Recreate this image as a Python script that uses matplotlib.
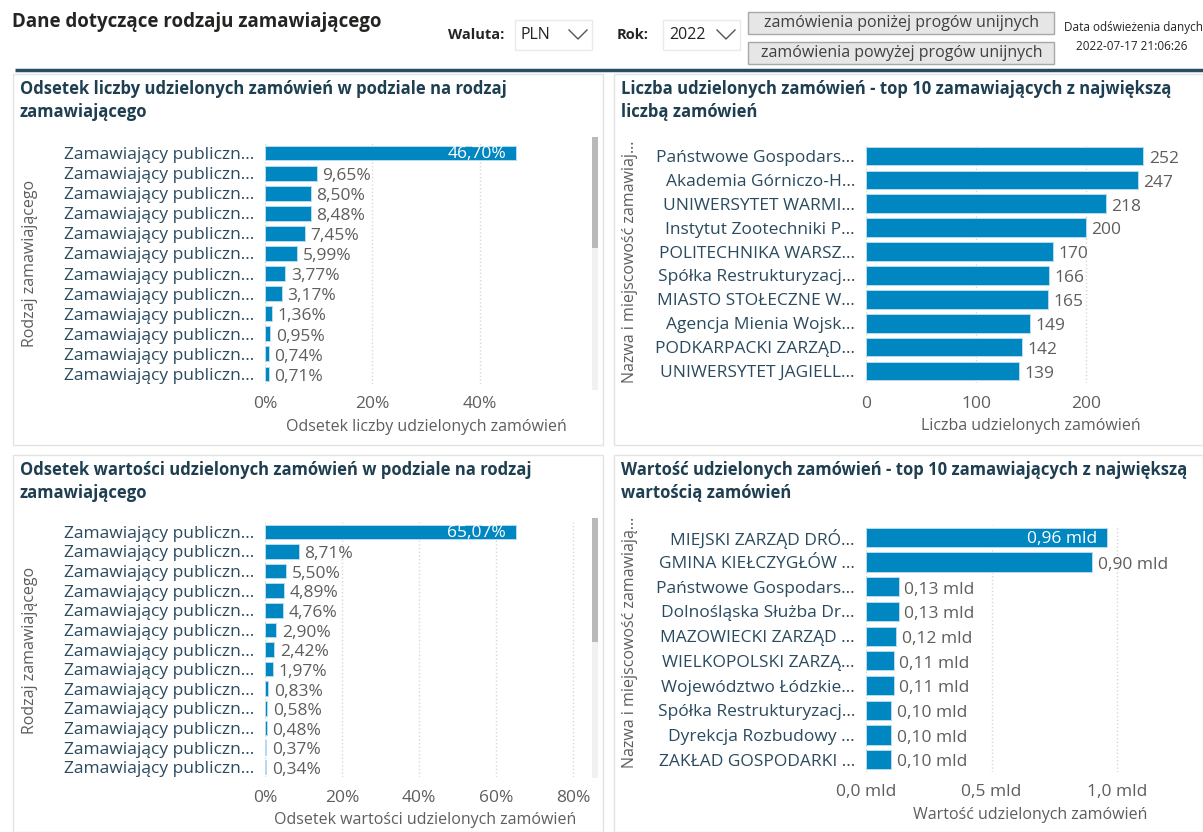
import numpy as np
import matplotlib.pyplot as plt
from matplotlib.patches import Rectangle

plt.rcParams['font.family'] = ['Open Sans', 'DejaVu Sans']

W, H = 1203, 832

# panel 1 - odsetek liczby zamowien
typ_labels = ['Zamawiający publiczn...'] * 12
typ_liczba = [46.70, 9.65, 8.50, 8.48, 7.45, 5.99, 3.77, 3.17, 1.36, 0.95, 0.74, 0.71]

# panel 2 - top 10 wg liczby
top_liczba_labels = ['Państwowe Gospodars...', 'Akademia Górniczo-H...', 'UNIWERSYTET WARMI...',
                     'Instytut Zootechniki P...', 'POLITECHNIKA WARSZ...', 'Spółka Restrukturyzacj...',
                     'MIASTO STOŁECZNE W...', 'Agencja Mienia Wojsk...', 'PODKARPACKI ZARZĄD...',
                     'UNIWERSYTET JAGIELL...']
top_liczba = [252, 247, 218, 200, 170, 166, 165, 149, 142, 139]

# panel 3 - odsetek wartosci
typ_labels2 = ['Zamawiający publiczn...'] * 13
typ_wartosc = [65.07, 8.71, 5.50, 4.89, 4.76, 2.90, 2.42, 1.97, 0.83, 0.58, 0.48, 0.37, 0.34]

# panel 4 - top 10 wg wartosci (mld PLN)
top_wart_labels = ['MIEJSKI ZARZĄD DRÓ...', 'GMINA KIEŁCZYGŁÓW ...', 'Państwowe Gospodars...',
                   'Dolnośląska Służba Dr...', 'MAZOWIECKI ZARZĄD ...', 'WIELKOPOLSKI ZARZĄ...',
                   'Województwo Łódzkie...', 'Spółka Restrukturyzacj...', 'Dyrekcja Rozbudowy ...',
                   'ZAKŁAD GOSPODARKI ...']
top_wartosc = [0.96, 0.90, 0.13, 0.13, 0.12, 0.11, 0.11, 0.10, 0.10, 0.10]

BAR = '#0087C1'
TITLE_C = '#1E3F51'
CAT_C = '#2A4A5E'
GREY = '#605E5C'
FS = 12.5

fig = plt.figure(figsize=(W / 100, H / 100), dpi=100)
fig.patch.set_facecolor('white')

# overlay in pixel coords for header + frames
ov = fig.add_axes([0, 0, 1, 1])
ov.set_xlim(0, W)
ov.set_ylim(H, 0)
ov.axis('off')


def px_axes(x0, y0, x1, y1):
    ax = fig.add_axes([x0 / W, 1 - y1 / H, (x1 - x0) / W, (y1 - y0) / H])
    ax.patch.set_alpha(0)
    return ax


# header
ov.text(12, 22, 'Dane dotyczące rodzaju zamawiającego', fontsize=13.5, fontweight='bold',
        color='#252423', va='center', ha='left')
ov.text(448, 35, 'Waluta:', fontsize=10.5, fontweight='bold', color='#252423', va='center')
ov.add_patch(Rectangle((515, 20), 77, 30, facecolor='white', edgecolor='#EAEAEA', lw=1))
ov.text(521, 35, 'PLN', fontsize=11.5, color='#252423', va='center')
ov.plot([569, 578, 587], [30, 39, 30], color='#555555', lw=1)
ov.text(617, 35, 'Rok:', fontsize=10.5, fontweight='bold', color='#252423', va='center')
ov.add_patch(Rectangle((663, 20), 77, 30, facecolor='white', edgecolor='#EAEAEA', lw=1))
ov.text(669, 35, '2022', fontsize=11.5, color='#252423', va='center')
ov.plot([717, 726, 735], [30, 39, 30], color='#555555', lw=1)
for yb, txt in [(12, 'zamówienia poniżej progów unijnych'), (42, 'zamówienia powyżej progów unijnych')]:
    ov.add_patch(Rectangle((748, yb), 306, 22, facecolor='#E6E6E6', edgecolor='#A8A8A8', lw=1))
    ov.text(902, yb + 11, txt, fontsize=11.5, color='#404040', ha='center', va='center')
ov.text(1133, 28, 'Data odświeżenia danych', fontsize=8.5, color='#252423', ha='center', va='center')
ov.text(1132, 46, '2022-07-17 21:06:26', fontsize=8.5, color='#252423', ha='center', va='center')
ov.plot([15, W], [70, 70], color='#264D61', lw=2.5, solid_capstyle='butt')

# panel frames
for (x0, y0, x1, y1) in [(13, 74, 603, 445), (614, 74, 1203, 445),
                         (13, 455, 603, 832), (614, 455, 1203, 832)]:
    ov.add_patch(Rectangle((x0, y0), x1 - x0, y1 - y0, facecolor='none', edgecolor='#E3E3E3', lw=1))

# panel titles
TS = 12
ov.text(20, 89, 'Odsetek liczby udzielonych zamówień w podziale na rodzaj', fontsize=TS,
        fontweight='bold', color=TITLE_C, va='center')
ov.text(20, 112, 'zamawiającego', fontsize=TS, fontweight='bold', color=TITLE_C, va='center')
ov.text(621, 89, 'Liczba udzielonych zamówień - top 10 zamawiających z największą', fontsize=TS,
        fontweight='bold', color=TITLE_C, va='center')
ov.text(621, 112, 'liczbą zamówień', fontsize=TS, fontweight='bold', color=TITLE_C, va='center')
ov.text(20, 470, 'Odsetek wartości udzielonych zamówień w podziale na rodzaj', fontsize=TS,
        fontweight='bold', color=TITLE_C, va='center')
ov.text(20, 493, 'zamawiającego', fontsize=TS, fontweight='bold', color=TITLE_C, va='center')
ov.text(621, 470, 'Wartość udzielonych zamówień - top 10 zamawiających z największą', fontsize=TS,
        fontweight='bold', color=TITLE_C, va='center')
ov.text(621, 493, 'wartością zamówień', fontsize=TS, fontweight='bold', color=TITLE_C, va='center')

# scrollbars
for (y0, yt, y1) in [(137, 248, 390), (518, 642, 778)]:
    ov.add_patch(Rectangle((592, y0), 6, y1 - y0, facecolor='#F1F1F1', edgecolor='none'))
    ov.add_patch(Rectangle((592, y0), 6, yt - y0, facecolor='#B9B9B9', edgecolor='none'))

# y axis titles
YS = 11.5
ov.text(30, 263, 'Rodzaj zamawiającego', rotation=90, fontsize=YS, color=GREY, ha='center', va='center')
ov.text(30, 650, 'Rodzaj zamawiającego', rotation=90, fontsize=YS, color=GREY, ha='center', va='center')
ov.text(630, 262, 'Nazwa i miejscowość zamawiaj...', rotation=90, fontsize=YS, color=GREY,
        ha='center', va='center')
ov.text(630, 642, 'Nazwa i miejscowość zamawiają...', rotation=90, fontsize=YS, color=GREY,
        ha='center', va='center')


def bar_panel(rect, labels, vals, xmax, ticks, ticklabels, fmt, xtitle, height, first_inside):
    ax = px_axes(*rect)
    y = np.arange(len(vals))
    ax.barh(y, vals, height=height, color=BAR, edgecolor='#B5DCEE', linewidth=0.7, zorder=2)
    ax.set_ylim(len(vals) - 0.5, -0.5)
    ax.set_xlim(0, xmax)
    ax.set_yticks(y)
    ax.set_yticklabels(labels, fontsize=FS, color=CAT_C)
    ax.set_xticks(ticks)
    ax.set_xticklabels(ticklabels, fontsize=FS, color=GREY)
    ax.tick_params(length=0, pad=8)
    ax.tick_params(axis='x', pad=9)
    for s in ax.spines.values():
        s.set_visible(False)
    ax.grid(axis='x', color='#D8D8D8', linestyle=':', lw=1, zorder=0)
    ax.set_xlabel(xtitle, fontsize=11.5, color=GREY, labelpad=5)
    for i, v in enumerate(vals):
        if i == 0 and first_inside:
            ax.annotate(fmt(v), (v, i), xytext=(-7, -1), textcoords='offset points',
                        ha='right', va='center', fontsize=FS, color='white')
        else:
            ax.annotate(fmt(v), (v, i), xytext=(4, -2), textcoords='offset points',
                        ha='left', va='center', fontsize=FS, color=GREY)
    return ax


pct = lambda v: f'{v:.2f}%'.replace('.', ',')
bar_panel((265, 143, 587, 384), typ_labels, typ_liczba, 60, [0, 20, 40], ['0%', '20%', '40%'],
          pct, 'Odsetek liczby udzielonych zamówień', 0.74, True)
bar_panel((866, 144, 1195, 383), top_liczba_labels, top_liczba, 299, [0, 100, 200], ['0', '100', '200'],
          lambda v: f'{v}', 'Liczba udzielonych zamówień', 0.78, False)
bar_panel((265, 522, 585, 777), typ_labels2, typ_wartosc, 83, [0, 20, 40, 60, 80],
          ['0%', '20%', '40%', '60%', '80%'], pct, 'Odsetek wartości udzielonych zamówień', 0.74, True)
bar_panel((866, 525, 1195, 772), top_wart_labels, top_wartosc, 1.31, [0, 0.5, 1.0],
          ['0,0 mld', '0,5 mld', '1,0 mld'], lambda v: f'{v:.2f} mld'.replace('.', ','),
          'Wartość udzielonych zamówień', 0.78, True)

fig.savefig('out.png', dpi=100)
